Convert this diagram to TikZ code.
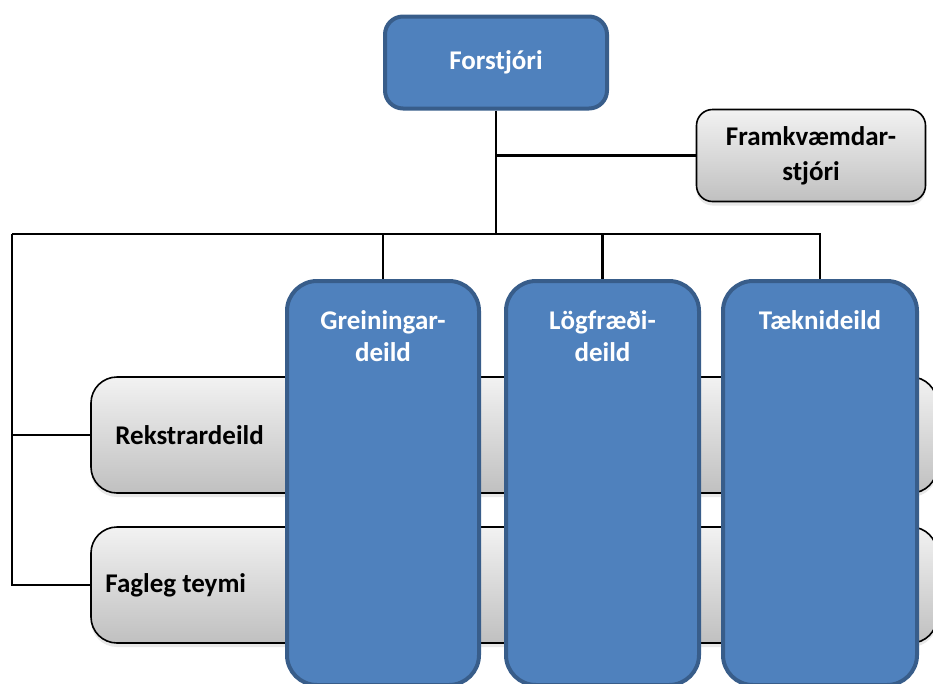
\documentclass[tikz,border=0pt]{standalone}
\usepackage{fontspec}
\setmainfont{Carlito}
\usetikzlibrary{positioning, shadows}
\definecolor{boxblue}{RGB}{79,129,189}
\definecolor{edgeblue}{RGB}{56,93,138}
\definecolor{greytop}{RGB}{242,242,242}
\definecolor{greybot}{RGB}{192,192,192}

\begin{document}
\begin{tikzpicture}[x=1pt, y=-1pt, font=\fontsize{27}{32}\selectfont\bfseries,
  bluebox/.style={draw=edgeblue, line width=4pt, fill=boxblue, text=white,
    rounded corners=30pt, inner sep=0pt},
  greybox/.style={draw=black, line width=1.6pt, top color=greytop,
    bottom color=greybot, rounded corners=26pt, inner sep=0pt,
    drop shadow={shadow xshift=0pt, shadow yshift=-4pt, opacity=0.18}},
  link/.style={draw=black, line width=2.2pt},
  lbl/.style={inner sep=0pt, align=center}]
  \useasboundingbox (0,0) rectangle (933,683);
  \clip (0,0) rectangle (933,683);

  % Top boxes
  \node[bluebox, rounded corners=18pt, minimum width=222pt, minimum height=92pt]
    (forstjori) at (496,62.5) {Forstj\'ori};
  \node[greybox, rounded corners=16pt, minimum width=229pt, minimum height=92pt,
    align=center] (framkv) at (811,155.5) {Framkv\ae mdar-\\[3pt]stj\'ori};

  % Bus line
  \coordinate (busL) at (12,234);
  \coordinate (busR) at (821,234);

  % Wide grey rows
  \node[greybox, minimum width=846pt, minimum height=116pt]
    (rekstur) at (514,435) {};
  \node[greybox, minimum width=846pt, minimum height=116pt]
    (fagleg) at (514,585) {};
  \node[lbl, right=25pt of rekstur.west] (reksturtxt) {Rekstrardeild};
  \node[lbl, right=15pt of fagleg.west] (faglegtxt) {Fagleg teymi};

  % Connectors
  \draw[link] (forstjori.south) -- (forstjori.south |- busL);
  \draw[link] (forstjori.south |- framkv.west) -- (framkv.west);
  \draw[link] (busL) -- (busR);
  \draw[link] (busL) |- (fagleg.west);
  \draw[link] (busL |- rekstur.west) -- (rekstur.west);

  % Department columns
  \node[bluebox, minimum width=192pt, minimum height=404pt]
    (grein) at (383,483) {};
  \node[bluebox, minimum width=193pt, minimum height=404pt]
    (logf) at (602.5,483) {};
  \node[bluebox, minimum width=194pt, minimum height=404pt]
    (taekni) at (820,483) {};
  \draw[link] (grein.north |- busL) -- (grein.north);
  \draw[link] (logf.north |- busL) -- (logf.north);
  \draw[link] (taekni.north |- busL) -- (taekni.north);

  % Column labels
  \node[lbl, text=white, below=31pt of grein.north] (greintxt) {Greiningar-\\deild};
  \node[lbl, text=white, below=31pt of logf.north] (logftxt) {L\"ogfr\ae\dh i-\\deild};
  \node[lbl, text=white, below=31pt of taekni.north] (taeknitxt) {T\ae knideild};
\end{tikzpicture}
\end{document}
